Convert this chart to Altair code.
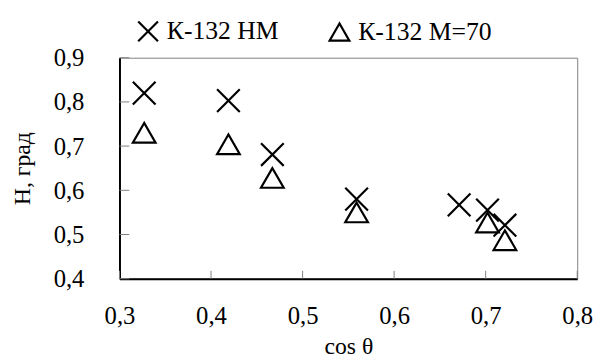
import altair as alt
import pandas as pd

series_names = ["К-132 НМ", "К-132 М=70"]

hm_x = [0.327, 0.419, 0.467, 0.559, 0.671, 0.702, 0.721]
hm_y = [0.820, 0.803, 0.681, 0.580, 0.567, 0.555, 0.521]

m70_x = [0.327, 0.419, 0.467, 0.559, 0.702, 0.721]
m70_y = [0.730, 0.704, 0.628, 0.550, 0.527, 0.487]

x_ticks = [0.3, 0.4, 0.5, 0.6, 0.7, 0.8]
y_ticks = [0.4, 0.5, 0.6, 0.7, 0.8, 0.9]

df = pd.DataFrame(
    {"x": hm_x + m70_x,
     "y": hm_y + m70_y,
     "s": [series_names[0]] * len(hm_x) + [series_names[1]] * len(m70_x)}
)
xt = pd.DataFrame({"v": x_ticks})
yt = pd.DataFrame({"v": y_ticks})

FONT = "Liberation Serif"
label_expr = "replace(format(datum.value, '.1f'), '.', ',')"

xs = alt.Scale(domain=[0.3, 0.8], nice=False, zero=False)
ys = alt.Scale(domain=[0.4, 0.9], nice=False, zero=False)

points = alt.Chart(df).mark_point(
    filled=False, size=529, strokeWidth=2.2, color="black", opacity=1
).encode(
    x=alt.X("x:Q", scale=xs, title="cos θ",
            axis=alt.Axis(values=x_ticks, labelExpr=label_expr, ticks=False,
                          grid=False, labelPadding=25, titlePadding=7)),
    y=alt.Y("y:Q", scale=ys, title="H, град",
            axis=alt.Axis(values=y_ticks, labelExpr=label_expr, ticks=False,
                          grid=False, labelPadding=36, titlePadding=19)),
    shape=alt.Shape("s:N",
                    scale=alt.Scale(domain=series_names,
                                    range=["M-1,-1L1,1M-1,1L1,-1", "triangle-up"]),
                    legend=alt.Legend(title=None, orient="none", direction="horizontal",
                                      legendX=16, legendY=-40, symbolSize=400,
                                      symbolStrokeWidth=2.2, symbolStrokeColor="black",
                                      symbolFillColor="transparent", labelFontSize=26,
                                      labelFont=FONT, labelColor="black", labelOffset=6,
                                      columnPadding=46, padding=0)),
)

yticks = alt.Chart(yt).mark_rule(color="#808080", strokeWidth=1).encode(
    y=alt.Y("v:Q", scale=ys), x=alt.value(0), x2=alt.value(10)
)
xticks = alt.Chart(xt).mark_rule(color="#808080", strokeWidth=1).encode(
    x=alt.X("v:Q", scale=xs), y=alt.value(224), y2=alt.value(216)
)

chart = alt.layer(yticks, xticks, points).properties(
    width=464, height=224,
    padding={"left": 113, "top": 48, "right": 17, "bottom": 80},
    autosize="none",
).configure(
    font=FONT
).configure_view(
    stroke="#808080", strokeWidth=1
).configure_axis(
    domainColor="black", domainWidth=2, labelFont=FONT, titleFont=FONT,
    labelFontSize=25, titleFontSize=24, labelColor="black", titleColor="black",
    titleFontWeight="normal", labelFlush=False
).configure_legend(
    labelFont=FONT
)

chart.save("out.html", embed_options={"renderer": "svg", "actions": False})
